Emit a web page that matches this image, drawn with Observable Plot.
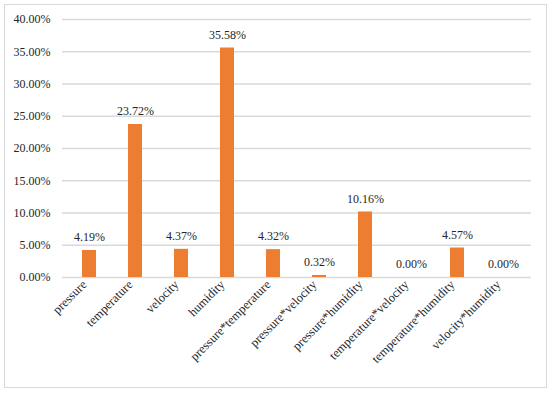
<!DOCTYPE html>
<html>
<head>
<meta charset="utf-8">
<script src="https://cdn.jsdelivr.net/npm/d3@7"></script>
<script src="https://cdn.jsdelivr.net/npm/@observablehq/plot@0.6"></script>
<style>
  html, body { margin: 0; padding: 0; background: #fff; }
  #wrap { position: relative; width: 550px; height: 396px; }
  #border { position: absolute; left: 4px; top: 4px; width: 541px; height: 382px; border: 1px solid #d9d9d9; pointer-events: none; }
  #chart { position: absolute; left: 0; top: 0; }
</style>
</head>
<body>
<div id="wrap"><div id="chart"></div><div id="border"></div></div>
<script>
const categories = ["pressure", "temperature", "velocity", "humidity", "pressure*temperature", "pressure*velocity", "pressure*humidity", "temperature*velocity", "temperature*humidity", "velocity*humidity"];
const shares = [4.19, 23.72, 4.37, 35.58, 4.32, 0.32, 10.16, 0.00, 4.57, 0.00];
const yTicks = [0, 5, 10, 15, 20, 25, 30, 35, 40];

const data = categories.map((c, i) => ({category: c, value: shares[i]}));
const fmt = v => v.toFixed(2) + "%";
const font = "'Palatino Linotype', 'Book Antiqua', Palatino, 'Liberation Serif', serif";

const chart = Plot.plot({
  width: 550,
  height: 396,
  marginLeft: 62,
  marginRight: 19,
  marginTop: 19,
  marginBottom: 119,
  style: {fontFamily: font, fontSize: "12px", color: "#262626", background: "transparent"},
  x: {domain: categories, paddingInner: 0.69, paddingOuter: 0.345, label: null},
  y: {domain: [0, 40], ticks: yTicks, tickFormat: fmt, label: null, tickSize: 0, tickPadding: 12},
  marks: [
    Plot.gridY(yTicks, {stroke: "#d9d9d9", strokeOpacity: 1, strokeWidth: 1.3}),
    Plot.barY(data, {x: "category", y: "value", fill: "#ed7d31"}),
    Plot.axisX({tickSize: 0, tickPadding: 4, tickRotate: -45, fontSize: 12.5, dx: -5, dy: 1, label: null}),
    Plot.text(data, {x: "category", y: "value", text: d => fmt(d.value), dy: -13, fill: "#262626", fontSize: 12})
  ]
});
document.getElementById("chart").appendChild(chart);
</script>
</body>
</html>
